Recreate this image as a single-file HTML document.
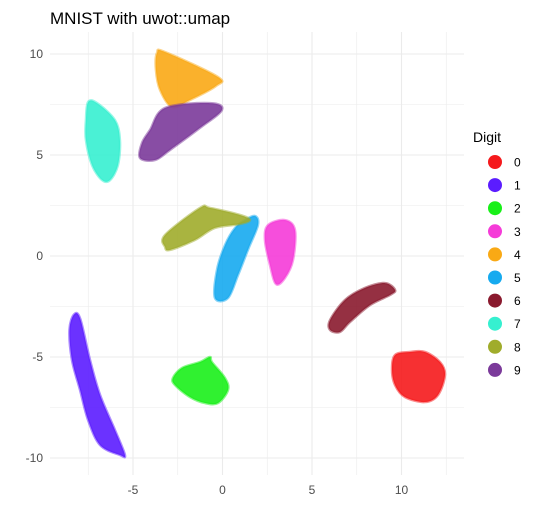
<!DOCTYPE html>
<html><head><meta charset="utf-8"><style>
html,body{margin:0;padding:0;background:#fff;}
svg{display:block;font-family:"Liberation Sans",sans-serif;}
</style></head><body>
<svg id="chart" width="538" height="520">
<text x="50" y="24" font-size="17" fill="#000">MNIST with uwot::umap</text>
<g id="grid"></g>
<g id="clusters"></g>
<g id="axes"></g>
<g id="legend">
<text x="473" y="142" font-size="14" fill="#000">Digit</text>
</g>
</svg>
<script>
const digits = ["0","1","2","3","4","5","6","7","8","9"];
const colors = ["#f5191c","#5b1cff","#19f019","#f53bd8","#f9a915","#16aaef","#8a1a2e","#36f0d0","#a0ac2b","#7b3a9a"];
const xTicks = [-5,0,5,10];
const yTicks = [-10,-5,0,5,10];
const xMinor = [-7.5,-2.5,2.5,7.5,12.5];
const yMinor = [-7.5,-2.5,2.5,7.5];
// cluster outlines in data coordinates: [x,y] pairs
const c0 = [[9.47,-5.64],[9.64,-4.90],[10.47,-4.75],[11.31,-4.75],[12.15,-5.25],[12.43,-5.89],[12.04,-6.88],[11.31,-7.23],[10.19,-6.98],[9.64,-6.39]];
const c1 = [[-8.30,-2.90],[-7.95,-3.10],[-7.40,-5.15],[-6.84,-6.88],[-6.01,-8.61],[-5.45,-9.85],[-5.73,-9.85],[-6.84,-9.36],[-7.51,-8.12],[-7.96,-6.63],[-8.41,-5.15],[-8.55,-3.66]];
const c2 = [[-2.77,-6.04],[-2.26,-5.54],[-1.26,-5.25],[-0.70,-5.00],[-0.59,-5.25],[0.14,-6.04],[0.31,-6.63],[-0.25,-7.28],[-0.98,-7.28],[-1.82,-6.98],[-2.65,-6.39]];
const c3 = [[2.54,1.53],[3.49,1.78],[4.05,1.29],[3.94,-0.20],[3.49,-1.09],[2.99,-1.39],[2.65,-0.45],[2.37,0.79]];
const c4 = [[-3.66,10.05],[-3.21,10.1],[-0.25,8.86],[-0.36,8.42],[-1.82,7.72],[-2.82,7.38],[-3.49,8.22],[-3.72,9.21]];
const c5 = [[1.26,1.78],[1.82,1.98],[1.98,1.53],[1.42,0.30],[0.87,-0.94],[0.31,-2.08],[-0.42,-2.08],[-0.31,-0.69],[0.14,0.54],[0.70,1.39]];
const c6 = [[6.01,-3.17],[6.84,-2.18],[7.96,-1.58],[9.08,-1.34],[9.64,-1.68],[9.36,-1.93],[8.24,-2.43],[7.12,-3.27],[6.56,-3.76],[6.01,-3.66]];
const c7 = [[-7.51,7.62],[-7.01,7.57],[-6.01,6.73],[-5.73,5.74],[-5.84,4.50],[-6.28,3.76],[-6.73,3.76],[-7.29,4.50],[-7.63,5.74],[-7.63,6.73]];
const c8 = [[-3.21,1.04],[-1.26,2.38],[-0.70,2.38],[0.98,2.03],[1.54,1.78],[0.98,1.58],[-0.42,1.39],[-1.54,0.79],[-2.93,0.30],[-3.21,0.45]];
const c9 = [[-3.21,7.33],[-0.70,7.57],[-0.03,7.23],[-1.26,6.34],[-2.93,5.25],[-3.77,4.75],[-4.61,4.85],[-4.50,5.59],[-4.05,6.24]];
const clusters = [c0,c1,c2,c3,c4,c5,c6,c7,c8,c9];

const X0=222.5, XS=17.9, Y0=256, YS=20.2;
const L=50, R=464, T=32, B=475;
const sx = v => X0 + v*XS;
const sy = v => Y0 - v*YS;
const NS="http://www.w3.org/2000/svg";
function mk(tag, attrs, parent){const e=document.createElementNS(NS,tag);for(const k in attrs)e.setAttribute(k,attrs[k]);parent.appendChild(e);return e;}
function smooth(pts){
  const P=pts.map(q=>[sx(q[0]),sy(q[1])]);const n=P.length;let d='M'+P[0][0]+','+P[0][1];
  for(let i=0;i<n;i++){const p0=P[(i-1+n)%n],p1=P[i],p2=P[(i+1)%n],p3=P[(i+2)%n];const k=1/6;
    d+=' C'+(p1[0]+(p2[0]-p0[0])*k)+','+(p1[1]+(p2[1]-p0[1])*k)+' '+(p2[0]-(p3[0]-p1[0])*k)+','+(p2[1]-(p3[1]-p1[1])*k)+' '+p2[0]+','+p2[1];}
  return d+'Z';
}

const grid=document.getElementById('grid');
xMinor.forEach(v=>{const l=mk('line',{x1:sx(v),x2:sx(v),y1:T,y2:B,stroke:'#ebebeb','stroke-width':0.6},grid);

});
yMinor.forEach(v=>{const l=mk('line',{x1:L,x2:R,y1:sy(v),y2:sy(v),stroke:'#ebebeb','stroke-width':0.6},grid);

});
xTicks.forEach(v=>{const l=mk('line',{x1:sx(v),x2:sx(v),y1:T,y2:B,stroke:'#ebebeb','stroke-width':1.1},grid);

});
yTicks.forEach(v=>{const l=mk('line',{x1:L,x2:R,y1:sy(v),y2:sy(v),stroke:'#ebebeb','stroke-width':1.1},grid);

});

const axes=document.getElementById('axes');
xTicks.forEach(v=>{const t=mk('text',{x:sx(v),y:494,'font-size':12,fill:'#4d4d4d','text-anchor':'middle'},axes);t.textContent=v;

});
yTicks.forEach(v=>{const t=mk('text',{x:43,y:sy(v)+4,'font-size':12,fill:'#4d4d4d','text-anchor':'end'},axes);t.textContent=v;

});

const cg=document.getElementById('clusters');
clusters.forEach((pts,i)=>{
  const p=mk('path',{d:smooth(pts),fill:colors[i],stroke:colors[i],'stroke-width':2.5,'stroke-linejoin':'round','fill-opacity':0.9,'stroke-opacity':0.5},cg);
  
  
});

const lg=document.getElementById('legend');
digits.forEach((d,i)=>{
  const y=162+i*23.1;
  const c=mk('circle',{cx:495,cy:y,r:7,fill:colors[i]},lg);
  
  
  const t=mk('text',{x:514,y:y+4.5,'font-size':12,fill:'#000'},lg);t.textContent=d;
  
  
});
</script>
</body></html>
